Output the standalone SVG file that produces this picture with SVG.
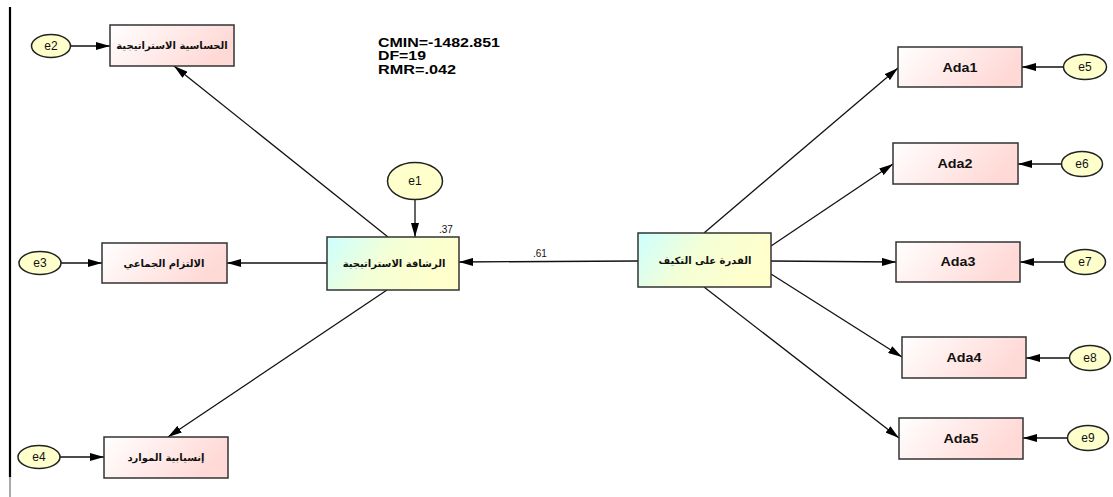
<svg xmlns="http://www.w3.org/2000/svg" width="1113" height="497" viewBox="0 0 1113 497">
<defs>
<linearGradient id="gInd" x1="0" y1="0" x2="1" y2="0.3">
<stop offset="0" stop-color="#ffffff"/>
<stop offset="1" stop-color="#ffd9d6"/>
</linearGradient>
<linearGradient id="gLat" x1="0" y1="0" x2="1" y2="0.3">
<stop offset="0" stop-color="#ccffff"/>
<stop offset="0.5" stop-color="#f4ffd6"/>
<stop offset="1" stop-color="#ffffcc"/>
</linearGradient>
<marker id="ah" viewBox="0 0 14 8" refX="14" refY="4" markerWidth="14" markerHeight="8" markerUnits="userSpaceOnUse" orient="auto">
<path d="M0,0 L14,4 L0,8 Z" fill="#000"/>
</marker>
</defs>
<style>
.ind{fill:url(#gInd);stroke:#333;stroke-width:1.5}
.lat{fill:url(#gLat);stroke:#333;stroke-width:1.5}
.err{fill:#ffffcc;stroke:#222;stroke-width:1.5}
.ar{font-family:"DejaVu Sans",sans-serif;font-weight:bold;font-size:10px;fill:#111}
.en{font-family:"Liberation Sans",Arial,sans-serif;font-weight:bold;font-size:13px;fill:#111}
.el{font-family:"Liberation Sans",Arial,sans-serif;font-size:12px;fill:#111}
.fit{font-family:"Liberation Sans",Arial,sans-serif;font-weight:bold;font-size:12px;fill:#000}
.lbl{font-family:"Liberation Sans",Arial,sans-serif;font-size:10px;fill:#111}
#conn line{stroke:#111;stroke-width:1.3;marker-end:url(#ah)}
</style>
<rect width="1113" height="497" fill="#fff"/>
<line x1="10" y1="7" x2="10" y2="477" stroke="#000" stroke-width="2.2"/>
<line x1="10" y1="477" x2="10" y2="497" stroke="#555" stroke-width="1"/>

<g id="fit">
<text class="fit" x="378" y="47" textLength="122" lengthAdjust="spacingAndGlyphs">CMIN=-1482.851</text>
<text class="fit" x="378" y="60" textLength="48" lengthAdjust="spacingAndGlyphs">DF=19</text>
<text class="fit" x="378" y="74" textLength="78" lengthAdjust="spacingAndGlyphs">RMR=.042</text>
</g>

<g id="conn">
<line x1="70" y1="46" x2="110" y2="46"/>
<line x1="61" y1="263" x2="102" y2="263"/>
<line x1="60" y1="457" x2="104" y2="457"/>
<line x1="415" y1="199" x2="415" y2="237"/>
<line x1="388" y1="237" x2="174" y2="66"/>
<line x1="327" y1="263" x2="227" y2="263"/>
<line x1="387" y1="290" x2="168" y2="437"/>
<line x1="638" y1="261" x2="459" y2="262"/>
<line x1="704" y1="233" x2="898" y2="68"/>
<line x1="771" y1="246" x2="893" y2="164"/>
<line x1="771" y1="261" x2="896" y2="262"/>
<line x1="771" y1="274" x2="902" y2="357"/>
<line x1="704" y1="287" x2="899" y2="438"/>
<line x1="1064" y1="67" x2="1022" y2="67"/>
<line x1="1061" y1="164" x2="1018" y2="164"/>
<line x1="1064" y1="262" x2="1020" y2="262"/>
<line x1="1069" y1="358" x2="1026" y2="358"/>
<line x1="1067" y1="438" x2="1023" y2="438"/>
</g>
<text class="lbl" x="533" y="257">.61</text>
<text class="lbl" x="439" y="233">.37</text>

<g id="box1"><rect class="ind" x="110" y="25" width="124" height="41"/><text class="ar" x="172" y="49" text-anchor="middle">الحساسية الاستراتيجية</text></g>
<g id="box3"><rect class="ind" x="102" y="243" width="125" height="40"/><text class="ar" x="164" y="267" text-anchor="middle">الالتزام  الجماعي</text></g>
<g id="box4"><rect class="ind" x="104" y="437" width="124" height="41"/><text class="ar" x="166" y="461" text-anchor="middle">إنسيابية الموارد</text></g>
<g id="agility"><rect class="lat" x="327" y="237" width="132" height="53"/><text class="ar" x="394" y="267" text-anchor="middle">الرشاقة الاستراتيجية</text></g>
<g id="adapt"><rect class="lat" x="638" y="233" width="133" height="54"/><text class="ar" x="705" y="264" text-anchor="middle">القدرة على التكيف</text></g>

<g id="ada1"><rect class="ind" x="898" y="47" width="124" height="40"/><text class="en" x="960" y="72" text-anchor="middle" textLength="35" lengthAdjust="spacingAndGlyphs">Ada1</text></g>
<g id="ada2"><rect class="ind" x="893" y="143" width="125" height="41"/><text class="en" x="955" y="168" text-anchor="middle" textLength="35" lengthAdjust="spacingAndGlyphs">Ada2</text></g>
<g id="ada3"><rect class="ind" x="896" y="242" width="124" height="40"/><text class="en" x="958" y="266" text-anchor="middle" textLength="35" lengthAdjust="spacingAndGlyphs">Ada3</text></g>
<g id="ada4"><rect class="ind" x="902" y="337" width="124" height="41"/><text class="en" x="964" y="362" text-anchor="middle" textLength="35" lengthAdjust="spacingAndGlyphs">Ada4</text></g>
<g id="ada5"><rect class="ind" x="899" y="418" width="124" height="41"/><text class="en" x="961" y="443" text-anchor="middle" textLength="35" lengthAdjust="spacingAndGlyphs">Ada5</text></g>

<g id="e1"><ellipse class="err" cx="415" cy="181" rx="27.5" ry="18.5"/><text class="el" x="415" y="185" text-anchor="middle">e1</text></g>
<g id="e2"><ellipse class="err" cx="51" cy="46" rx="19.5" ry="11.5"/><text class="el" x="51" y="50" text-anchor="middle">e2</text></g>
<g id="e3"><ellipse class="err" cx="40" cy="263" rx="21" ry="11.5"/><text class="el" x="40" y="267" text-anchor="middle">e3</text></g>
<g id="e4"><ellipse class="err" cx="39" cy="457" rx="21" ry="11.5"/><text class="el" x="39" y="461" text-anchor="middle">e4</text></g>
<g id="e5"><ellipse class="err" cx="1085" cy="67" rx="21.5" ry="12.5"/><text class="el" x="1085" y="71" text-anchor="middle">e5</text></g>
<g id="e6"><ellipse class="err" cx="1082" cy="164" rx="20.5" ry="12.5"/><text class="el" x="1082" y="168" text-anchor="middle">e6</text></g>
<g id="e7"><ellipse class="err" cx="1085" cy="262" rx="20.5" ry="12.5"/><text class="el" x="1085" y="266" text-anchor="middle">e7</text></g>
<g id="e8"><ellipse class="err" cx="1090" cy="358" rx="20.5" ry="12.5"/><text class="el" x="1090" y="362" text-anchor="middle">e8</text></g>
<g id="e9"><ellipse class="err" cx="1088" cy="438" rx="20.5" ry="12.5"/><text class="el" x="1088" y="442" text-anchor="middle">e9</text></g>
</svg>
